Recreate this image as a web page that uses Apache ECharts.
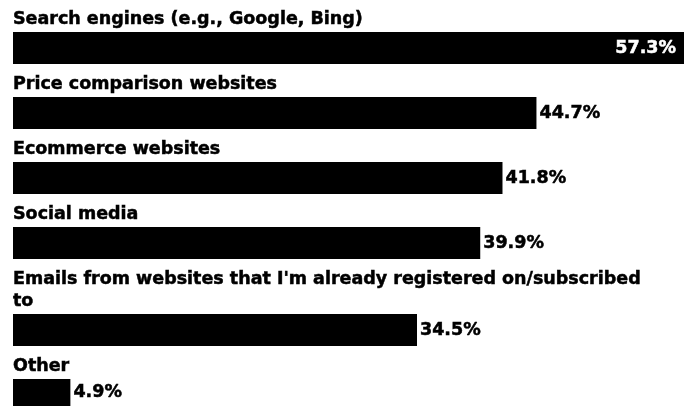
<!DOCTYPE html>
<html>
<head>
<meta charset="utf-8">
<script src="https://cdn.jsdelivr.net/npm/echarts@6/dist/echarts.min.js"></script>
<style>
  html, body { margin: 0; padding: 0; background: #fff; }
  #chart { width: 693px; height: 406px; }
</style>
</head>
<body>
<div id="chart"></div>
<script>
// Share of respondents by source (%)
const categories = [
  'Search engines (e.g., Google, Bing)',
  'Price comparison websites',
  'Ecommerce websites',
  'Social media',
  "Emails from websites that I'm already registered on/subscribed to",
  'Other'
];
const values = [57.3, 44.7, 41.8, 39.9, 34.5, 4.9];

// Layout
const LEFT = 13, RIGHT = 9;
const BAR_H = 32, LINE_H = 22, GAP = 11, TOP = 10;
const LABEL_W = 640;
const FONT_FAMILY = '"DejaVu Sans", Verdana, sans-serif';
const FONT_SIZE = 17.5;
const FONT_WEIGHT = 'bold';

// Word-wrap a label using the same font as the chart
const measureCtx = document.createElement('canvas').getContext('2d');
measureCtx.font = FONT_WEIGHT + ' ' + FONT_SIZE + 'px ' + FONT_FAMILY;
function wrap(text, maxW) {
  const words = text.split(' ');
  const lines = [];
  let cur = '';
  words.forEach(w => {
    const test = cur ? cur + ' ' + w : w;
    if (cur && measureCtx.measureText(test).width > maxW) {
      lines.push(cur);
      cur = w;
    } else {
      cur = test;
    }
  });
  if (cur) lines.push(cur);
  return lines;
}

const maxVal = Math.max(...values);
const grids = [], xAxes = [], yAxes = [], series = [];
let y = TOP;
categories.forEach((cat, i) => {
  const lines = wrap(cat, LABEL_W);
  y += lines.length * LINE_H;
  const barTop = y;
  y += BAR_H + GAP;
  const inside = values[i] === maxVal;

  grids.push({ left: LEFT, right: RIGHT, top: barTop, height: BAR_H, containLabel: false });
  xAxes.push({ gridIndex: i, type: 'value', min: 0, max: maxVal, show: false });
  yAxes.push({
    gridIndex: i,
    type: 'category',
    data: [cat],
    axisLine: { show: false },
    axisTick: { show: false },
    axisLabel: { show: false },
    splitLine: { show: false },
    name: lines.join('\n'),
    nameLocation: 'end',
    nameGap: 2,
    nameTextStyle: {
      align: 'left',
      verticalAlign: 'bottom',
      fontFamily: FONT_FAMILY,
      fontSize: FONT_SIZE,
      fontWeight: FONT_WEIGHT,
      lineHeight: LINE_H,
      color: '#000',
      textBorderColor: '#000',
      textBorderWidth: 0.5
    }
  });
  series.push({
    type: 'bar',
    xAxisIndex: i,
    yAxisIndex: i,
    data: [values[i]],
    barWidth: BAR_H,
    itemStyle: { color: '#000' },
    silent: true,
    label: {
      show: true,
      position: inside ? 'insideRight' : 'right',
      distance: inside ? 8 : 3,
      formatter: p => p.value.toFixed(1) + '%',
      color: inside ? '#fff' : '#000',
      textBorderColor: inside ? '#fff' : '#000',
      textBorderWidth: 0.5,
      fontFamily: FONT_FAMILY,
      fontSize: FONT_SIZE,
      fontWeight: FONT_WEIGHT
    }
  });
});

const chart = echarts.init(document.getElementById('chart'), null, { renderer: 'canvas' });
chart.setOption({
  animation: false,
  backgroundColor: '#fff',
  grid: grids,
  xAxis: xAxes,
  yAxis: yAxes,
  series: series
});
</script>
</body>
</html>
